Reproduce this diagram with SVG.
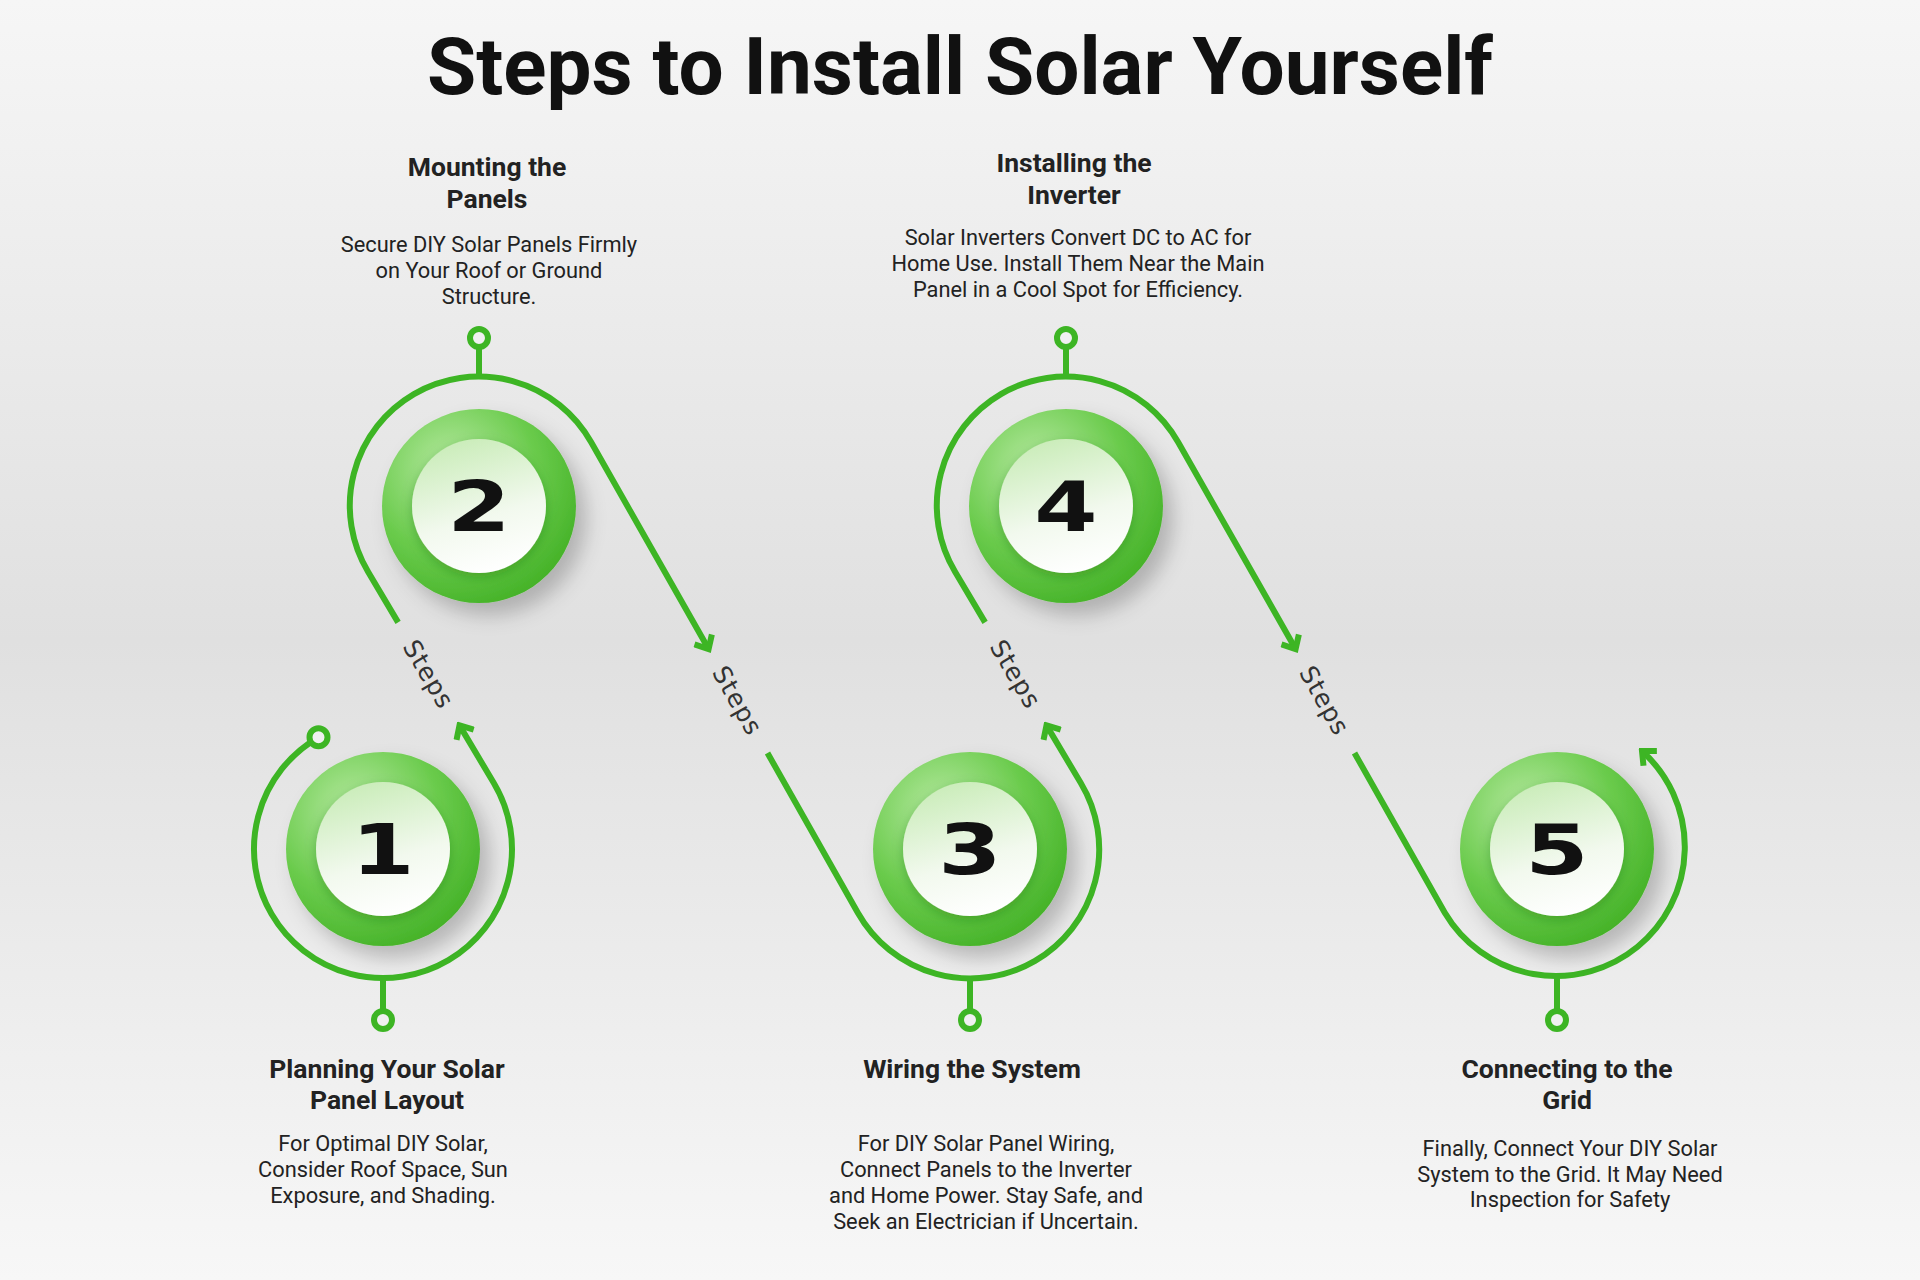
<svg xmlns="http://www.w3.org/2000/svg" width="1920" height="1280" viewBox="0 0 1920 1280">
<defs>
<linearGradient id="bg" x1="0" y1="0" x2="0" y2="1">
<stop offset="0" stop-color="#f6f6f6"/><stop offset="0.5" stop-color="#e0e0e0"/><stop offset="1" stop-color="#f7f7f7"/>
</linearGradient>
<radialGradient id="disc" cx="0.35" cy="0.3" r="0.8">
<stop offset="0" stop-color="#b6e9a0"/><stop offset="0.55" stop-color="#6acb4c"/><stop offset="1" stop-color="#3fae22"/>
</radialGradient>
<linearGradient id="inner" x1="0.3" y1="0" x2="0.6" y2="1">
<stop offset="0" stop-color="#c9ecb8"/><stop offset="0.6" stop-color="#f2f9ee"/><stop offset="1" stop-color="#ffffff"/>
</linearGradient>
<filter id="sh" x="-40%" y="-40%" width="180%" height="180%">
<feDropShadow dx="10" dy="12" stdDeviation="10" flood-color="#000" flood-opacity="0.22"/>
</filter>
<filter id="sh2" x="-40%" y="-40%" width="180%" height="180%">
<feDropShadow dx="0" dy="4" stdDeviation="6" flood-color="#1f6b10" flood-opacity="0.35"/>
</filter>
<marker id="arr" viewBox="-14 -12 18 24" markerWidth="18" markerHeight="24" markerUnits="userSpaceOnUse" orient="auto" refX="0" refY="0">
<path d="M-11,-10 L0,0 L-11,10" fill="none" stroke="#3db524" stroke-width="6" stroke-linejoin="miter"/>
</marker>
</defs>
<style>
.ln{fill:none;stroke:#3db524;stroke-width:6;stroke-linecap:butt}
.dot{fill:#f0f0f0;stroke:#3db524;stroke-width:6}
.h{font-family:Roboto,"Liberation Sans",sans-serif;font-weight:700;font-size:26.5px;fill:#222;text-anchor:middle}
.d{font-family:Roboto,"Liberation Sans",sans-serif;font-size:21.8px;fill:#222;text-anchor:middle}
.st{font-family:"DejaVu Sans",sans-serif;font-size:25px;fill:#333;text-anchor:middle;letter-spacing:1px}
.num{font-family:"DejaVu Sans",sans-serif;font-weight:700;font-size:70px;fill:#111;text-anchor:middle}
</style>
<rect width="1920" height="1280" fill="url(#bg)"/>
<text x="960" y="94" font-family="Roboto,'Liberation Sans',sans-serif" font-weight="700" font-size="80" fill="#111" text-anchor="middle">Steps to Install Solar Yourself</text>

<g id="connectors">
<path class="ln" d="M318.5,737.3 A129,129 0 1 0 493.8,783 L459.5,725.4" marker-end="url(#arr)"/>
<path class="ln" d="M398.1,622.4 L368.2,572 A129,129 0 1 1 591.2,442.3 L708.6,649" marker-end="url(#arr)"/>
<path class="ln" d="M767.5,753 L857.8,912.7 A129,129 0 1 0 1080.8,783 L1046.5,725.4" marker-end="url(#arr)"/>
<path class="ln" d="M985.1,622.4 L955.2,572 A129,129 0 1 1 1178.2,442.3 L1295.6,649" marker-end="url(#arr)"/>
<path class="ln" d="M1354.5,753 L1444.8,912.7 A129,129 0 1 0 1642,751" marker-end="url(#arr)"/>
<line class="ln" x1="479" y1="377" x2="479" y2="340"/>
<line class="ln" x1="1066" y1="377" x2="1066" y2="340"/>
<line class="ln" x1="383" y1="978" x2="383" y2="1012"/>
<line class="ln" x1="970" y1="978" x2="970" y2="1012"/>
<line class="ln" x1="1557" y1="978" x2="1557" y2="1012"/>
<circle class="dot" cx="318.5" cy="737.3" r="9"/>
<circle class="dot" cx="479" cy="338" r="9"/>
<circle class="dot" cx="1066" cy="338" r="9"/>
<circle class="dot" cx="383" cy="1020" r="9"/>
<circle class="dot" cx="970" cy="1020" r="9"/>
<circle class="dot" cx="1557" cy="1020" r="9"/>
<text class="st" transform="translate(428.8,674) rotate(59.2)" y="9">Steps</text>
<text class="st" transform="translate(737.8,700.5) rotate(60.4)" y="9">Steps</text>
<text class="st" transform="translate(1015.8,674) rotate(59.2)" y="9">Steps</text>
<text class="st" transform="translate(1324.8,700.5) rotate(60.4)" y="9">Steps</text>
</g>

<g id="step1">
<circle cx="383" cy="849" r="97" fill="url(#disc)" filter="url(#sh)"/>
<circle cx="383" cy="849" r="67" fill="url(#inner)" filter="url(#sh2)"/>
<text class="num" transform="translate(383,874) scale(1.3,1)">1</text>
<text class="h" x="387" y="1078">Planning Your Solar</text>
<text class="h" x="387" y="1109">Panel Layout</text>
<text class="d" x="383" y="1151">For Optimal DIY Solar,</text>
<text class="d" x="383" y="1177">Consider Roof Space, Sun</text>
<text class="d" x="383" y="1203">Exposure, and Shading.</text>
</g>
<g id="step2">
<circle cx="479" cy="506" r="97" fill="url(#disc)" filter="url(#sh)"/>
<circle cx="479" cy="506" r="67" fill="url(#inner)" filter="url(#sh2)"/>
<text class="num" transform="translate(479,531) scale(1.3,1)">2</text>
<text class="h" x="487" y="176">Mounting the</text>
<text class="h" x="487" y="208">Panels</text>
<text class="d" x="489" y="252">Secure DIY Solar Panels Firmly</text>
<text class="d" x="489" y="278">on Your Roof or Ground</text>
<text class="d" x="489" y="304">Structure.</text>
</g>
<g id="step3">
<circle cx="970" cy="849" r="97" fill="url(#disc)" filter="url(#sh)"/>
<circle cx="970" cy="849" r="67" fill="url(#inner)" filter="url(#sh2)"/>
<text class="num" transform="translate(970,874) scale(1.3,1)">3</text>
<text class="h" x="972" y="1078">Wiring the System</text>
<text class="d" x="986" y="1151">For DIY Solar Panel Wiring,</text>
<text class="d" x="986" y="1177">Connect Panels to the Inverter</text>
<text class="d" x="986" y="1203">and Home Power. Stay Safe, and</text>
<text class="d" x="986" y="1229">Seek an Electrician if Uncertain.</text>
</g>
<g id="step4">
<circle cx="1066" cy="506" r="97" fill="url(#disc)" filter="url(#sh)"/>
<circle cx="1066" cy="506" r="67" fill="url(#inner)" filter="url(#sh2)"/>
<text class="num" transform="translate(1066,531) scale(1.3,1)">4</text>
<text class="h" x="1074" y="172">Installing the</text>
<text class="h" x="1074" y="204">Inverter</text>
<text class="d" x="1078" y="245">Solar Inverters Convert DC to AC for</text>
<text class="d" x="1078" y="271">Home Use. Install Them Near the Main</text>
<text class="d" x="1078" y="297">Panel in a Cool Spot for Efficiency.</text>
</g>
<g id="step5">
<circle cx="1557" cy="849" r="97" fill="url(#disc)" filter="url(#sh)"/>
<circle cx="1557" cy="849" r="67" fill="url(#inner)" filter="url(#sh2)"/>
<text class="num" transform="translate(1557,874) scale(1.3,1)">5</text>
<text class="h" x="1567" y="1078">Connecting to the</text>
<text class="h" x="1567" y="1109">Grid</text>
<text class="d" x="1570" y="1156">Finally, Connect Your DIY Solar</text>
<text class="d" x="1570" y="1182">System to the Grid. It May Need</text>
<text class="d" x="1570" y="1207">Inspection for Safety</text>
</g>
</svg>
